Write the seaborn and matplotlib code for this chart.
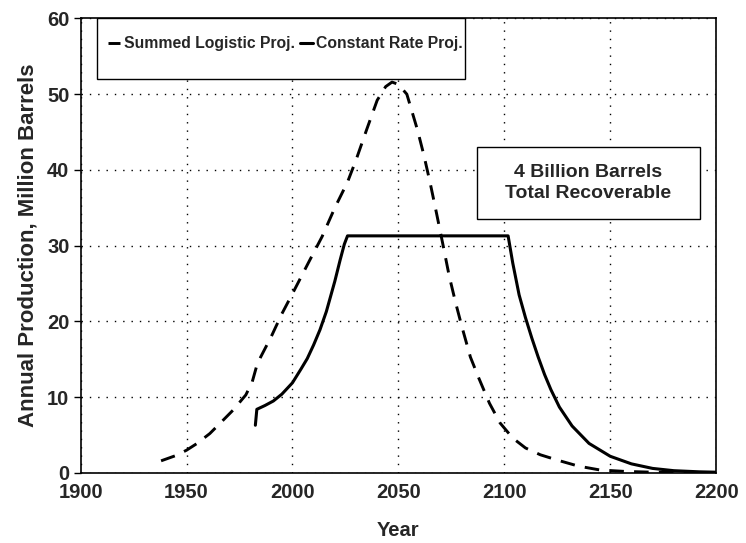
import matplotlib
matplotlib.use("Agg")
import matplotlib.pyplot as plt
from matplotlib.patches import Rectangle
import seaborn as sns
import pandas as pd

# Summed logistic projection (dashed)
logistic_years = [1938, 1945, 1950, 1955, 1961, 1966, 1972, 1978, 1981, 1983, 1985,
                  1990, 1995, 2001, 2008, 2014, 2020, 2026, 2030, 2035, 2040, 2044,
                  2047, 2050, 2054, 2059, 2062, 2065, 2068, 2071, 2074, 2077, 2080,
                  2084, 2088, 2093, 2098, 2104, 2110, 2117, 2125, 2135, 2145, 2157,
                  2170, 2185, 2200]
logistic_prod = [1.6, 2.3, 3.0, 3.9, 5.2, 6.6, 8.3, 10.3, 12.0, 14.0, 15.3,
                 18.0, 21.0, 24.2, 28.0, 31.2, 35.0, 38.4, 41.3, 45.3, 49.2, 51.0,
                 51.6, 51.3, 50.0, 45.3, 42.0, 38.3, 34.3, 30.2, 26.0, 22.5, 19.3,
                 15.3, 12.5, 9.2, 6.6, 4.6, 3.3, 2.4, 1.7, 0.9, 0.4, 0.2,
                 0.1, 0.05, 0.0]

# Constant rate projection (solid)
constant_years = [1982.5, 1983.2, 1987, 1991, 1995, 2000, 2004, 2007, 2010, 2013, 2016,
                  2018, 2020, 2022.5, 2024.5, 2026, 2101.8, 2104, 2107, 2110, 2113,
                  2116, 2119, 2122, 2126, 2132, 2140, 2150, 2160, 2170, 2180, 2192, 2200]
constant_prod = [6.3, 8.4, 8.9, 9.5, 10.4, 11.9, 13.7, 15.1, 16.9, 18.9, 21.3,
                 23.3, 25.3, 28.1, 30.2, 31.3, 31.3, 27.7, 23.5, 20.5, 17.8,
                 15.3, 13.0, 11.0, 8.7, 6.2, 3.9, 2.2, 1.2, 0.6, 0.3, 0.15, 0.1]

x_ticks = [1900, 1950, 2000, 2050, 2100, 2150, 2200]
y_ticks = [0, 10, 20, 30, 40, 50, 60]

sns.set_style("white")
plt.rcParams["font.family"] = ["Liberation Sans", "DejaVu Sans"]
plt.rcParams["font.weight"] = "bold"

fig = plt.figure(figsize=(7.46, 5.43), dpi=100)
ax = fig.add_axes([0.108, 0.129, 0.852, 0.837])

df_log = pd.DataFrame({"Year": logistic_years, "Prod": logistic_prod})
df_con = pd.DataFrame({"Year": constant_years, "Prod": constant_prod})

sns.lineplot(data=df_log, x="Year", y="Prod", ax=ax, color="black", linewidth=2.1,
             label="Summed Logistic Proj.", sort=False)
ax.lines[-1].set_dashes((5, 3.5))
sns.lineplot(data=df_con, x="Year", y="Prod", ax=ax, color="black", linewidth=2.2,
             label="Constant Rate Proj.", sort=False)

ax.set_xlim(1900, 2200)
ax.set_ylim(0, 60)
ax.set_xticks(x_ticks)
ax.set_yticks(y_ticks)
ax.tick_params(axis="both", labelsize=14.5)
ax.tick_params(axis="y", length=5, width=1, color="black", direction="out", left=True, pad=3)
ax.tick_params(axis="x", length=0, pad=7)
for lbl in ax.get_xticklabels() + ax.get_yticklabels():
    lbl.set_fontweight("bold")

ax.grid(True, linestyle=(0, (1, 5)), color="black", linewidth=1.0)
for s in ax.spines.values():
    s.set_color("black")
    s.set_linewidth(1.2)

ax.set_xlabel("Year", fontsize=14.5, fontweight="bold", labelpad=14)
ax.set_ylabel("Annual Production, Million Barrels", fontsize=16, fontweight="bold", labelpad=6)

# legend box drawn as its own rectangle, legend itself frameless
ax.add_patch(Rectangle((0.026, 0.867), 0.579, 0.133, transform=ax.transAxes,
                       facecolor="white", edgecolor="black", linewidth=1.0, zorder=4))
leg = ax.legend(loc="center", bbox_to_anchor=(0.322, 0.944), ncol=2, fontsize=11.3,
                handlelength=0.8, handletextpad=0.2, columnspacing=0.35,
                borderpad=0.2, frameon=False, borderaxespad=0)
leg.set_zorder(5)
for t in leg.get_texts():
    t.set_fontweight("bold")

ax.add_patch(Rectangle((0.623, 0.559), 0.351, 0.158, transform=ax.transAxes,
                       facecolor="white", edgecolor="black", linewidth=1.0, zorder=4))
ax.text(0.7985, 0.638, "4 Billion Barrels\nTotal Recoverable", transform=ax.transAxes,
        ha="center", va="center", fontsize=14, fontweight="bold", linespacing=1.25, zorder=5)

plt.savefig("out.png", dpi=100)
plt.close()
